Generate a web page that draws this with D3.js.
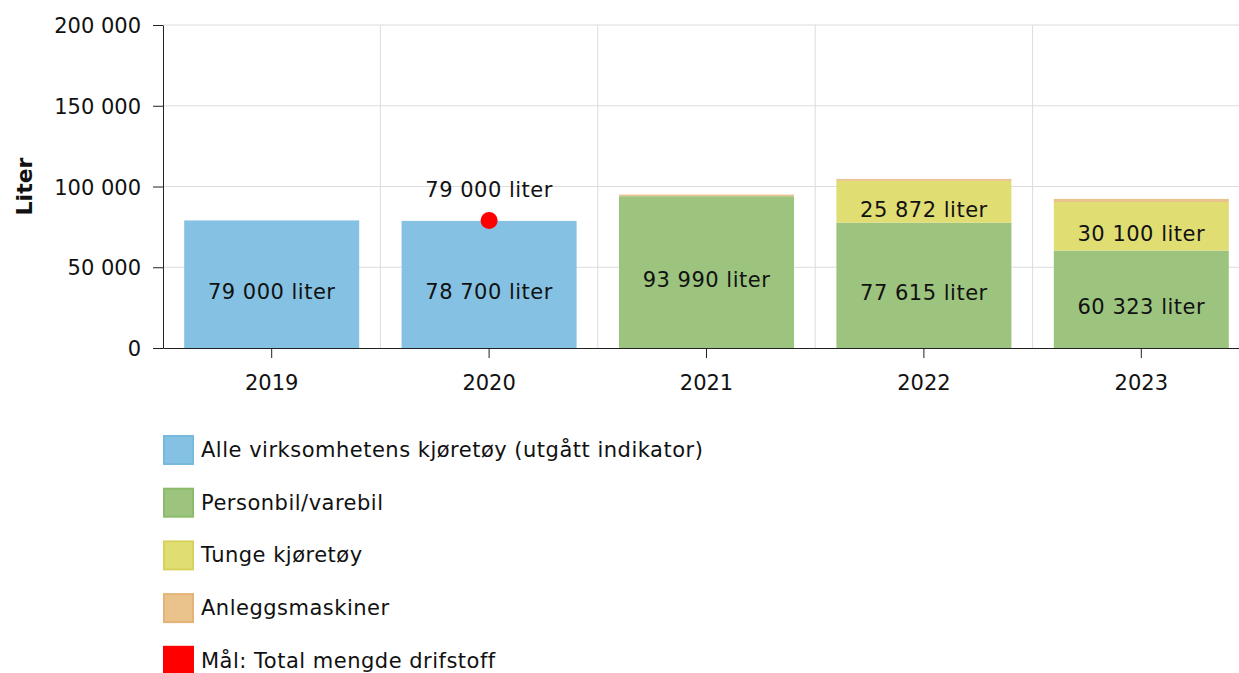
<!DOCTYPE html>
<html>
<head>
<meta charset="utf-8">
<script src="https://cdn.jsdelivr.net/npm/d3@7"></script>
<style>
  body { margin: 0; background: #fff; }
  svg { display: block; font-family: "DejaVu Sans", Verdana, sans-serif; }
  .grid line { stroke: #dcdcdc; stroke-width: 1; }
  .axis text { font-size: 21px; fill: #111; font-family: "DejaVu Sans", Verdana, sans-serif; }
  .axis path, .axis line { stroke: #222; }
  .lbl { letter-spacing: 0.5px; }
</style>
</head>
<body>
<svg id="chart" width="1239" height="673"></svg>
<script>
// data
var years = ["2019", "2020", "2021", "2022", "2023"]
var alleKjoretoy = [79000, 78700, 0, 0, 0]
var personbil = [0, 0, 93990, 77615, 60323]
var tungeKjoretoy = [0, 0, 0, 25872, 30100]
var anleggsmaskiner = [0, 0, 1000, 1200, 1900]
var maalTotal = [null, 79000, null, null, null]
var yTicks = [0, 50000, 100000, 150000, 200000]

var seriesNames = ["Alle virksomhetens kjøretøy (utgått indikator)", "Personbil/varebil", "Tunge kjøretøy", "Anleggsmaskiner"]
var seriesFill = ["#85c1e2", "#9cc47f", "#e0dd73", "#e9c28c"]
var seriesStroke = ["#78b9de", "#8cbb6c", "#d6d25c", "#e3b476"]
var targetName = "Mål: Total mengde drifstoff"

var nb = d3.formatLocale({decimal: ",", thousands: "\u00a0", grouping: [3], currency: ["", ""]})
var fmt = nb.format(",d")

var svg = d3.select("#chart")
var plotLeft = 163, plotTop = 25, plotBottom = 348

var x = d3.scaleBand().domain(years).range([plotLeft, 1250]).paddingInner(0.195).paddingOuter(0.0975)
var y = d3.scaleLinear().domain([0, 200000]).range([plotBottom, plotTop])

// gridlines
var grid = svg.append("g").attr("class", "grid")
grid.selectAll("line.h").data(yTicks.slice(1)).enter().append("line")
  .attr("x1", plotLeft).attr("x2", 1239)
  .attr("y1", function(d){ return y(d) }).attr("y2", function(d){ return y(d) })
grid.selectAll("line.v").data(years.slice(1)).enter().append("line")
  .attr("x1", function(d){ return x(d) - x.step() * x.paddingInner() / 2 })
  .attr("x2", function(d){ return x(d) - x.step() * x.paddingInner() / 2 })
  .attr("y1", plotTop).attr("y2", plotBottom)

// stacked bars
var rows = years.map(function(yr, i){
  return {year: yr, a: alleKjoretoy[i], p: personbil[i], t: tungeKjoretoy[i], m: anleggsmaskiner[i]}
})
var keys = ["a", "p", "t", "m"]
var stacked = d3.stack().keys(keys)(rows)

var layers = svg.append("g").selectAll("g").data(stacked).enter().append("g")
  .attr("fill", function(d, i){ return seriesFill[i] })

layers.selectAll("rect").data(function(d){ return d }).enter()
  .filter(function(d){ return d[1] - d[0] > 0 })
  .append("rect")
  .attr("x", function(d){ return x(d.data.year) })
  .attr("width", x.bandwidth())
  .attr("y", function(d){ return y(d[1]) })
  .attr("height", function(d){ return y(d[0]) - y(d[1]) })

// value labels inside segments
layers.selectAll("text").data(function(d){ return d }).enter()
  .filter(function(d){ return d[1] - d[0] >= 5000 })
  .append("text")
  .attr("class", "lbl")
  .attr("x", function(d){ return x(d.data.year) + x.bandwidth() / 2 })
  .attr("y", function(d){ return (y(d[0]) + y(d[1])) / 2 + 15 })
  .attr("text-anchor", "middle")
  .attr("font-size", 21)
  .attr("fill", "#111")
  .text(function(d){ return fmt(d[1] - d[0]) + " liter" })

// axes
svg.append("g").attr("class", "axis")
  .attr("transform", "translate(" + plotLeft + ",0)")
  .call(d3.axisLeft(y).tickValues(yTicks).tickFormat(fmt).tickSize(10).tickSizeOuter(0).tickPadding(12))
  .call(function(g){ g.selectAll(".tick text").attr("dy", "0.36em") })

svg.append("g").attr("class", "axis")
  .attr("transform", "translate(0," + plotBottom + ")")
  .call(d3.axisBottom(x).tickSize(10).tickSizeOuter(0).tickPadding(17))

svg.append("text")
  .attr("transform", "translate(32," + ((plotTop + plotBottom) / 2) + ") rotate(-90)")
  .attr("text-anchor", "middle")
  .attr("font-size", 22).attr("font-weight", "bold").attr("fill", "#111")
  .text("Liter")

// target points
var targets = years.map(function(yr, i){ return {year: yr, v: maalTotal[i]} })
  .filter(function(d){ return d.v != null })
var tg = svg.append("g")
tg.selectAll("circle").data(targets).enter().append("circle")
  .attr("cx", function(d){ return x(d.year) + x.bandwidth() / 2 })
  .attr("cy", function(d){ return y(d.v) })
  .attr("r", 8.5).attr("fill", "#ff0000")
tg.selectAll("text").data(targets).enter().append("text")
  .attr("class", "lbl")
  .attr("x", function(d){ return x(d.year) + x.bandwidth() / 2 })
  .attr("y", function(d){ return y(d.v) - 23 })
  .attr("text-anchor", "middle").attr("font-size", 21).attr("fill", "#111")
  .text(function(d){ return fmt(d.v) + " liter" })

// legend
var legendItems = seriesNames.map(function(n, i){ return {name: n, fill: seriesFill[i], stroke: seriesStroke[i]} })
legendItems.push({name: targetName, fill: "#ff0000", stroke: "#ff0000"})

var legend = svg.append("g").selectAll("g").data(legendItems).enter().append("g")
  .attr("transform", function(d, i){ return "translate(164," + (436 + i * 52.7) + ")" })
legend.append("rect")
  .attr("width", 29).attr("height", 28)
  .attr("fill", function(d){ return d.fill })
  .attr("stroke", function(d){ return d.stroke }).attr("stroke-width", 2)
legend.append("text")
  .attr("class", "lbl")
  .attr("x", 37).attr("y", 21)
  .attr("font-size", 21).attr("fill", "#111")
  .text(function(d){ return d.name })
</script>
</body>
</html>
